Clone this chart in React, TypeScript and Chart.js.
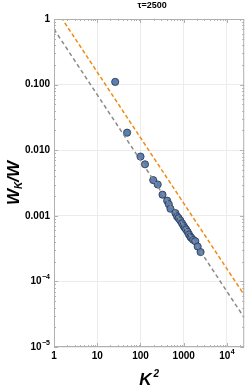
import React, { useEffect, useRef } from "react";
import { Chart, registerables } from "chart.js";

Chart.register(...registerables);

const titleText = "τ=2500";
const K2 = [26, 49, 100, 127, 197, 250, 323, 413, 451, 493, 641, 700, 760, 830, 910, 980, 1050, 1130, 1230, 1320, 1420, 1500, 1650, 1850, 2100, 2450];
const WkW = [0.11, 0.0185, 0.008, 0.0061, 0.0035, 0.003, 0.0021, 0.0017, 0.0015, 0.00128, 0.0011, 0.00098, 0.00092, 0.00085, 0.00077, 0.00071, 0.00066, 0.00062, 0.00057, 0.00052, 0.00048, 0.00046, 0.00043, 0.00041, 0.00034, 0.00028];
const lineX = [1, 25000];
const grayY = [0.7, 0.000028];
const orangeY = [1.55, 0.000062];
const xTicks = [1, 10, 100, 1000, 10000];
const xTickLabels = ["1", "10", "100", "1000", "10⁴"];
const yTicks = [0.00001, 0.0001, 0.001, 0.01, 0.1, 1];
const yTickLabels = ["10⁻⁵", "10⁻⁴", "0.001", "0.010", "0.100", "1"];

const FONT = '"Liberation Sans", Arial, sans-serif';
const SUP: Record<string, string> = { "⁰": "0", "¹": "1", "²": "2", "³": "3", "⁴": "4", "⁵": "5", "⁶": "6", "⁷": "7", "⁸": "8", "⁹": "9", "⁻": "-" };

function splitSup(s: string) {
  let base = "";
  let sup = "";
  for (const ch of s) {
    if (SUP[ch] !== undefined) sup += SUP[ch] === "-" ? "−" : SUP[ch];
    else base += ch;
  }
  return { base, sup };
}

function minorValues(min: number, max: number) {
  const out: { v: number; major: boolean }[] = [];
  let e = Math.floor(Math.log10(min));
  while (Math.pow(10, e) <= max) {
    for (let m = 1; m <= 9; m++) {
      const v = m * Math.pow(10, e);
      if (v >= min * 0.999 && v <= max * 1.001) out.push({ v, major: m === 1 });
    }
    e++;
  }
  return out;
}

function drawLabel(ctx: CanvasRenderingContext2D, label: string, x: number, y: number, align: "center" | "right") {
  const { base, sup } = splitSup(label);
  ctx.font = `bold 10px ${FONT}`;
  const bw = ctx.measureText(base).width;
  ctx.font = `bold 7px ${FONT}`;
  const sw = sup ? ctx.measureText(sup).width + 0.5 : 0;
  const total = bw + sw;
  const x0 = align === "center" ? x - total / 2 : x - total;
  ctx.textAlign = "left";
  ctx.textBaseline = "middle";
  ctx.font = `bold 10px ${FONT}`;
  ctx.fillText(base, x0, y);
  if (sup) {
    ctx.font = `bold 7px ${FONT}`;
    ctx.fillText(sup, x0 + bw + 0.5, y - 4);
  }
}

const framePlugin = {
  id: "frame",
  afterDatasetsDraw(chart: any) {
    const { ctx, chartArea: a, scales } = chart;
    const xs = scales.x;
    const ys = scales.y;
    ctx.save();
    ctx.strokeStyle = "#b0b0b0";
    ctx.lineWidth = 1;
    ctx.strokeRect(a.left + 0.5, a.top + 0.5, a.right - a.left - 1, a.bottom - a.top - 1);
    ctx.beginPath();
    for (const t of minorValues(xs.min, xs.max)) {
      const px = Math.round(xs.getPixelForValue(t.v)) + 0.5;
      const L = t.major ? 4 : 2;
      ctx.moveTo(px, a.bottom);
      ctx.lineTo(px, a.bottom - L);
      ctx.moveTo(px, a.top);
      ctx.lineTo(px, a.top + L);
    }
    for (const t of minorValues(ys.min, ys.max)) {
      const py = Math.round(ys.getPixelForValue(t.v)) + 0.5;
      const L = t.major ? 4 : 2;
      ctx.moveTo(a.left, py);
      ctx.lineTo(a.left + L, py);
      ctx.moveTo(a.right, py);
      ctx.lineTo(a.right - L, py);
    }
    ctx.stroke();

    ctx.fillStyle = "#000";
    // tick labels
    xTicks.forEach((v, i) => {
      drawLabel(ctx, xTickLabels[i], xs.getPixelForValue(v), a.bottom + 9, "center");
    });
    yTicks.forEach((v, i) => {
      drawLabel(ctx, yTickLabels[i], a.left - 4, ys.getPixelForValue(v), "right");
    });

    // title
    ctx.textAlign = "center";
    ctx.textBaseline = "middle";
    ctx.font = `bold 9px ${FONT}`;
    ctx.fillText(titleText, (a.left + a.right) / 2 + 3, 6);

    // x title K^2
    const cx = (a.left + a.right) / 2;
    ctx.font = `italic bold 17px ${FONT}`;
    const kw = ctx.measureText("K").width;
    ctx.font = `italic bold 10px ${FONT}`;
    const sw = ctx.measureText("2").width;
    const total = kw + 2 + sw;
    const x0 = cx - total / 2;
    ctx.textAlign = "left";
    ctx.textBaseline = "alphabetic";
    ctx.font = `italic bold 17px ${FONT}`;
    ctx.fillText("K", x0, 385);
    ctx.font = `italic bold 10px ${FONT}`;
    ctx.fillText("2", x0 + kw + 2, 377);

    // y title W_K/W rotated
    const cy = (a.top + a.bottom) / 2;
    ctx.translate(19, cy);
    ctx.rotate(-Math.PI / 2);
    ctx.font = `italic bold 17px ${FONT}`;
    const w1 = ctx.measureText("W").width;
    const w3 = ctx.measureText("/W").width;
    ctx.font = `italic bold 10px ${FONT}`;
    const w2 = ctx.measureText("K").width;
    const tot = w1 + w2 + w3;
    let sx = -tot / 2;
    ctx.font = `italic bold 17px ${FONT}`;
    ctx.fillText("W", sx, 0);
    sx += w1;
    ctx.font = `italic bold 10px ${FONT}`;
    ctx.fillText("K", sx, 3);
    sx += w2;
    ctx.font = `italic bold 17px ${FONT}`;
    ctx.fillText("/W", sx, 0);
    ctx.restore();
  },
};

export default function App() {
  const ref = useRef<HTMLCanvasElement | null>(null);
  useEffect(() => {
    document.body.style.margin = "0";
    const canvas = ref.current!;
    const chart = new Chart(canvas, {
      type: "scatter",
      data: {
        datasets: [
          {
            type: "line",
            data: lineX.map((x, i) => ({ x, y: grayY[i] })),
            borderColor: "#8a8a8a",
            borderWidth: 1.5,
            borderDash: [4, 3],
            pointRadius: 0,
            fill: false,
          } as any,
          {
            type: "line",
            data: lineX.map((x, i) => ({ x, y: orangeY[i] })),
            borderColor: "#f28a12",
            borderWidth: 1.5,
            borderDash: [4, 2.5],
            pointRadius: 0,
            fill: false,
          } as any,
          {
            type: "scatter",
            data: K2.map((x, i) => ({ x, y: WkW[i] })),
            backgroundColor: "#5b7fb3",
            borderColor: "#243349",
            borderWidth: 0.8,
            pointRadius: 3.6,
          },
        ],
      },
      options: {
        responsive: false,
        animation: false,
        events: [],
        layout: { padding: { top: 19, left: 0, right: 2, bottom: 0 } },
        plugins: { legend: { display: false }, tooltip: { enabled: false } },
        scales: {
          x: {
            type: "logarithmic",
            min: 1,
            max: 25000,
            afterBuildTicks: (s: any) => {
              s.ticks = xTicks.map((v) => ({ value: v }));
            },
            afterFit: (s: any) => {
              s.height = 42;
            },
            ticks: { display: false, autoSkip: false },
            grid: { color: "#ececec", drawTicks: false, lineWidth: 1 },
            border: { display: false },
          },
          y: {
            type: "logarithmic",
            min: 0.00001,
            max: 1,
            afterBuildTicks: (s: any) => {
              s.ticks = yTicks.map((v) => ({ value: v }));
            },
            afterFit: (s: any) => {
              s.width = 54;
            },
            ticks: { display: false, autoSkip: false },
            grid: { color: "#ececec", drawTicks: false, lineWidth: 1 },
            border: { display: false },
          },
        },
      } as any,
      plugins: [framePlugin],
    });
    return () => chart.destroy();
  }, []);
  return (
    <div style={{ width: 249, height: 389 }}>
      <canvas ref={ref} width={249} height={389} style={{ display: "block" }} />
    </div>
  );
}
